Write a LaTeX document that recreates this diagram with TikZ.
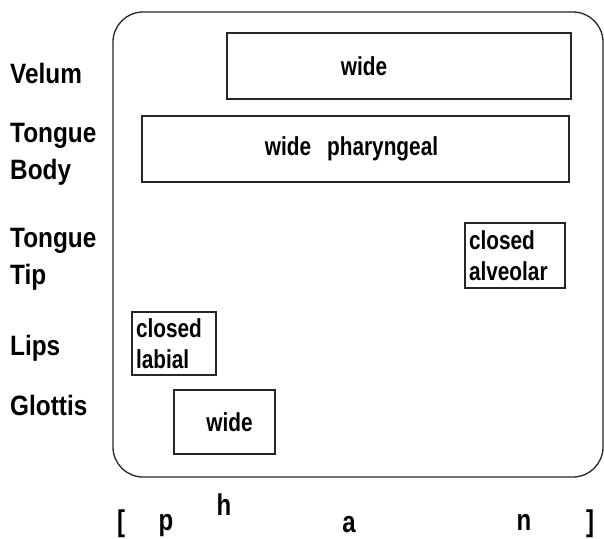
\documentclass[tikz,border=0pt]{standalone}
\usepackage{fontspec}
\setmainfont{Liberation Sans}[FakeStretch=0.8]
\newfontfamily\lblfont{Liberation Sans}[FakeStretch=0.87]
\begin{document}
\begin{tikzpicture}[x=1pt,y=-1pt,
  lbl/.style={anchor=base west, align=left, inner sep=0pt, font=\lblfont\fontsize{28}{37}\selectfont\bfseries},
  gbox/.style={draw=black!85, line width=1.3pt, inner sep=0pt, font=\fontsize{26}{31}\selectfont\bfseries},
  seg/.style={anchor=base, inner sep=0pt, font=\fontsize{30}{34}\selectfont\bfseries},
  frame/.style={draw=black!85, line width=1.3pt, rounded corners=30pt}]
\useasboundingbox (0,0) rectangle (604,538);
% outer frame
\draw[frame] (113,12) rectangle (603,477);
% tier labels (anchor at baseline of last line)
\node[lbl] (velum) at (10,83) {Velum};
\node[lbl] (tbody) at (10,179) {Tongue\\Body};
\node[lbl] (ttip) at (10,284) {Tongue\\Tip};
\node[lbl] (lips) at (10,355) {Lips};
\node[lbl] (glottis) at (10,415) {Glottis};
% gestures
\node[gbox, minimum width=344pt, minimum height=66pt] (velwide) at (399,66) {\hspace{-70pt}wide};
\node[gbox, minimum width=427pt, minimum height=66pt] (tbwide) at (355.5,149) {\hspace{-8pt}wide\hspace{16pt}pharyngeal};
\node[gbox, minimum width=100pt, minimum height=65pt, text width=92pt, align=left] (ttclosed) at (515,255.5) {closed\\alveolar};
\node[gbox, minimum width=84pt, minimum height=63pt, text width=76pt, align=left] (lipclosed) at (174,343.5) {closed\\labial};
\node[gbox, minimum width=101pt, minimum height=64pt] (glwide) at (224.5,422) {\hspace{10pt}wide};
% transcription
\node[seg] (lb) at (121,531) {[};
\node[seg] (p) at (166,530) {p};
\node[seg] (h) at (224,515) {h};
\node[seg] (a) at (349,532) {a};
\node[seg] (n) at (524,530) {n};
\node[seg] (rb) at (590,531) {]};
\end{tikzpicture}
\end{document}
